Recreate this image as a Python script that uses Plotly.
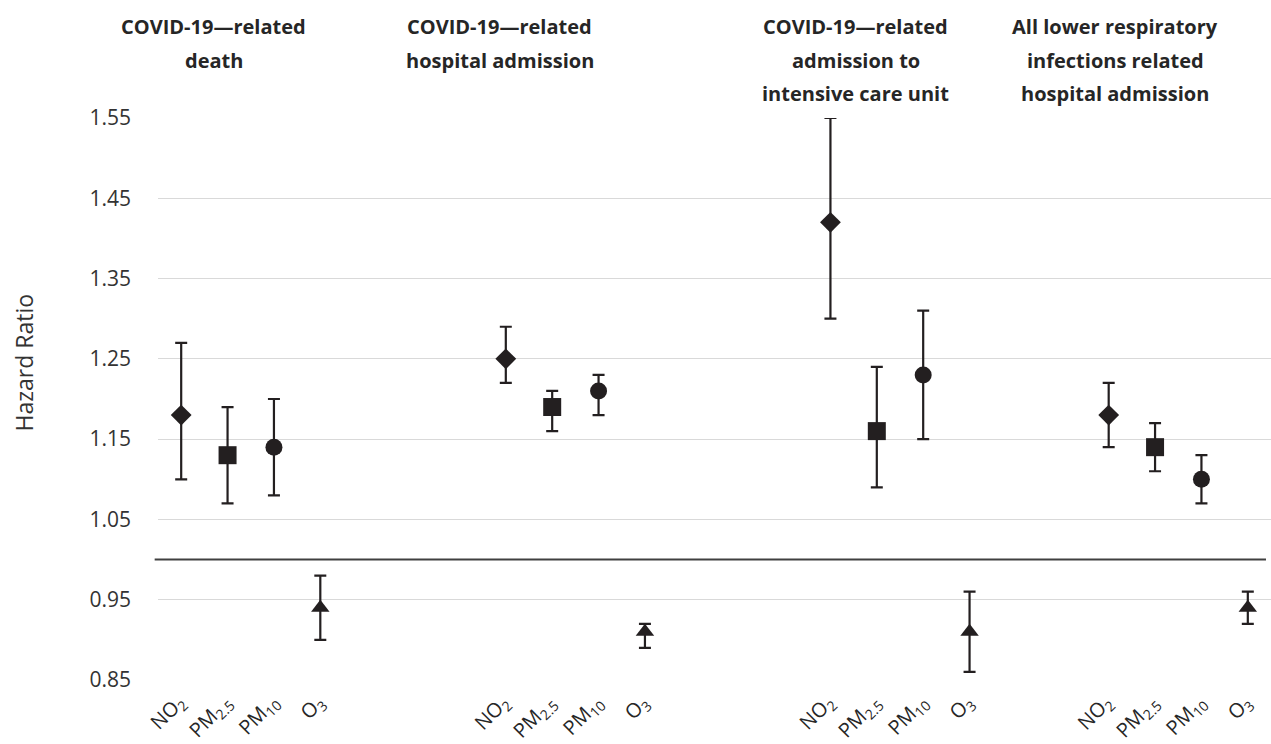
import plotly.graph_objects as go

# ---- data ----
outcome_lines = [
    ["COVID-19\u2014related", "death"],
    ["COVID-19\u2014related", "hospital admission"],
    ["COVID-19\u2014related", "admission to", "intensive care unit"],
    ["All lower respiratory", "infections related", "hospital admission"],
]
pollutants = ["NO<sub>2</sub>", "PM<sub>2.5</sub>", "PM<sub>10</sub>", "O<sub>3</sub>"]
symbols = ["diamond", "square", "circle", "triangle-up"]
sizes = [16, 18, 17, 16]

# hazard ratios per pollutant, one value per outcome
hr_no2 = [1.18, 1.25, 1.42, 1.18]
lo_no2 = [1.10, 1.22, 1.30, 1.14]
hi_no2 = [1.27, 1.29, 1.55, 1.22]

hr_pm25 = [1.13, 1.19, 1.16, 1.14]
lo_pm25 = [1.07, 1.16, 1.09, 1.11]
hi_pm25 = [1.19, 1.21, 1.24, 1.17]

hr_pm10 = [1.14, 1.21, 1.23, 1.10]
lo_pm10 = [1.08, 1.18, 1.15, 1.07]
hi_pm10 = [1.20, 1.23, 1.31, 1.13]

hr_o3 = [0.94, 0.91, 0.91, 0.94]
lo_o3 = [0.90, 0.89, 0.86, 0.92]
hi_o3 = [0.98, 0.92, 0.96, 0.96]

y_ticks = [0.85, 0.95, 1.05, 1.15, 1.25, 1.35, 1.45, 1.55]

# category layout: first category slot of each outcome group
group_offsets = [0, 7, 14, 20]

series = [
    (hr_no2, lo_no2, hi_no2),
    (hr_pm25, lo_pm25, hi_pm25),
    (hr_pm10, lo_pm10, hi_pm10),
    (hr_o3, lo_o3, hi_o3),
]

INK = "#231f20"
TXT = "#262626"
FONT = "Open Sans"
fig = go.Figure()
annotations = []
for p, (hr, lo, hi) in enumerate(series):
    xs = [g + p for g in group_offsets]
    fig.add_trace(go.Scatter(
        x=xs, y=hr, mode="markers",
        marker=dict(symbol=symbols[p], size=sizes[p], color=INK, line=dict(width=0)),
        error_y=dict(type="data", symmetric=False,
                     array=[h - v for h, v in zip(hi, hr)],
                     arrayminus=[v - l for v, l in zip(hr, lo)],
                     color=INK, thickness=2.2, width=6),
        showlegend=False, hoverinfo="y",
    ))
    # rotated category labels (text end at the category position)
    for xv in xs:
        annotations.append(dict(
            text=pollutants[p], x=xv, xref="x", y=0, yref="paper",
            xanchor="right", yanchor="top", xshift=14, yshift=-6,
            textangle=-45, showarrow=False,
            font=dict(family=FONT, size=20, color=TXT),
        ))

PLOT_TOP, PLOT_H = 118, 562
title_x = [0.050, 0.307, 0.627, 0.860]
for lines, xp in zip(outcome_lines, title_x):
    for i, line in enumerate(lines):
        ypix = 27 + 33 * i
        annotations.append(dict(
            text="<b>" + line + "</b>", x=xp, y=1.0 + (PLOT_TOP - ypix) / PLOT_H,
            xref="paper", yref="paper", xanchor="center", yanchor="middle",
            showarrow=False, font=dict(family=FONT, size=20, color=TXT),
        ))
annotations.append(dict(
    text="Hazard Ratio", x=-0.120, y=1.0 - (362 - PLOT_TOP) / PLOT_H,
    xref="paper", yref="paper", xanchor="center", yanchor="middle", textangle=-90,
    showarrow=False, font=dict(family=FONT, size=23, color="#333333"),
))

fig.update_layout(
    width=1271, height=744,
    margin=dict(l=158, r=0, t=PLOT_TOP, b=744 - PLOT_TOP - PLOT_H),
    paper_bgcolor="white", plot_bgcolor="white",
    annotations=annotations,
    shapes=[dict(type="line", xref="paper", yref="y", x0=-0.003, x1=0.9955,
                 y0=1.0, y1=1.0, line=dict(color="#404040", width=2))],
    xaxis=dict(range=[-0.5, 23.5], showticklabels=False, showgrid=False,
               zeroline=False, showline=False),
    yaxis=dict(range=[0.85, 1.55], tickmode="array", tickvals=y_ticks,
               ticktext=[f"{v:.2f}" for v in y_ticks],
               showgrid=True, gridcolor="#d9d9d9", gridwidth=1.3,
               zeroline=False, showline=False, ticklabelstandoff=26,
               tickfont=dict(family=FONT, size=21, color="#333333")),
)

fig.write_html("out.html", config={"displayModeBar": False},
               post_script="document.body.style.margin='0px';")
